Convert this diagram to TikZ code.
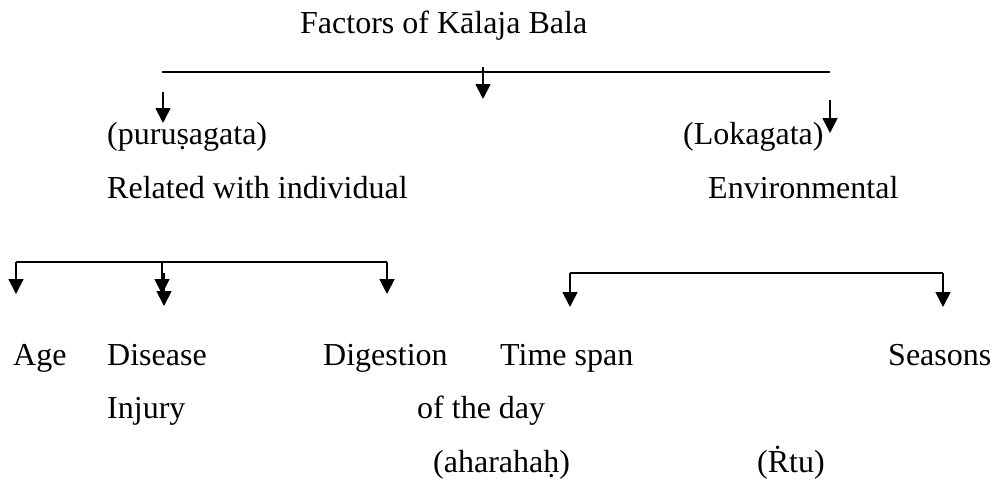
\documentclass[tikz,border=0pt]{standalone}
\usepackage{fontspec}
\setmainfont{Liberation Serif}
\usetikzlibrary{arrows.meta}
\begin{document}
\begin{tikzpicture}[x=1pt,y=-1pt,
  txt/.style={anchor=base west,inner sep=0pt,font=\fontsize{32}{38}\selectfont},
  bar/.style={line width=1.8pt},
  arr/.style={line width=1.8pt,-{Triangle[width=15pt,length=15pt]}}]
\useasboundingbox (0,0) rectangle (1004,483);
% texts
\node[txt] (title) at (300,33) {Factors of Kālaja Bala};
\node[txt] (pur) at (107,144) {(puruṣagata)};
\node[txt] (lok) at (683,144) {(Lokagata)};
\node[txt] (rel) at (107,198) {Related with individual};
\node[txt] (env) at (708,198) {Environmental};
\node[txt] (age) at (13,365) {Age};
\node[txt] (dis) at (107,365) {Disease};
\node[txt] (dig) at (323,365) {Digestion};
\node[txt] (tim) at (500,365) {Time span};
\node[txt] (sea) at (888,365) {Seasons};
\node[txt] (inj) at (107,418) {Injury};
\node[txt] (day) at (417,418) {of the day};
\node[txt] (aha) at (433,472) {(aharahaḥ)};
\node[txt] (rtu) at (757,472) {(Ṙtu)};
% coordinates
\coordinate (t1) at (162,72);
\coordinate (t2) at (830,72);
\coordinate (tm) at (483,67);
\coordinate (tmE) at (483,99);
\coordinate (lS) at (163,92);
\coordinate (lE) at (163,123);
\coordinate (rS) at (830,100);
\coordinate (rE) at (830,133);
\coordinate (a1) at (16,262);
\coordinate (a2) at (387,262);
\coordinate (a1E) at (16,294);
\coordinate (amS) at (162,262);
\coordinate (amE) at (162,294);
\coordinate (am2S) at (164,273);
\coordinate (am2E) at (164,306);
\coordinate (a2E) at (387,294);
\coordinate (b1) at (570,273);
\coordinate (b2) at (943,273);
\coordinate (b1E) at (570,307);
\coordinate (b2E) at (943,307);
% connectors
\draw[bar] (t1) -- (t2);
\draw[arr] (tm) -- (tmE);
\draw[arr] (lS) -- (lE);
\draw[arr] (rS) -- (rE);
\draw[bar] (a1) -- (a2);
\draw[arr] (a1) -- (a1E);
\draw[arr] (amS) -- (amE);
\draw[arr] (am2S) -- (am2E);
\draw[arr] (a2) -- (a2E);
\draw[bar] (b1) -- (b2);
\draw[arr] (b1) -- (b1E);
\draw[arr] (b2) -- (b2E);
\end{tikzpicture}
\end{document}
